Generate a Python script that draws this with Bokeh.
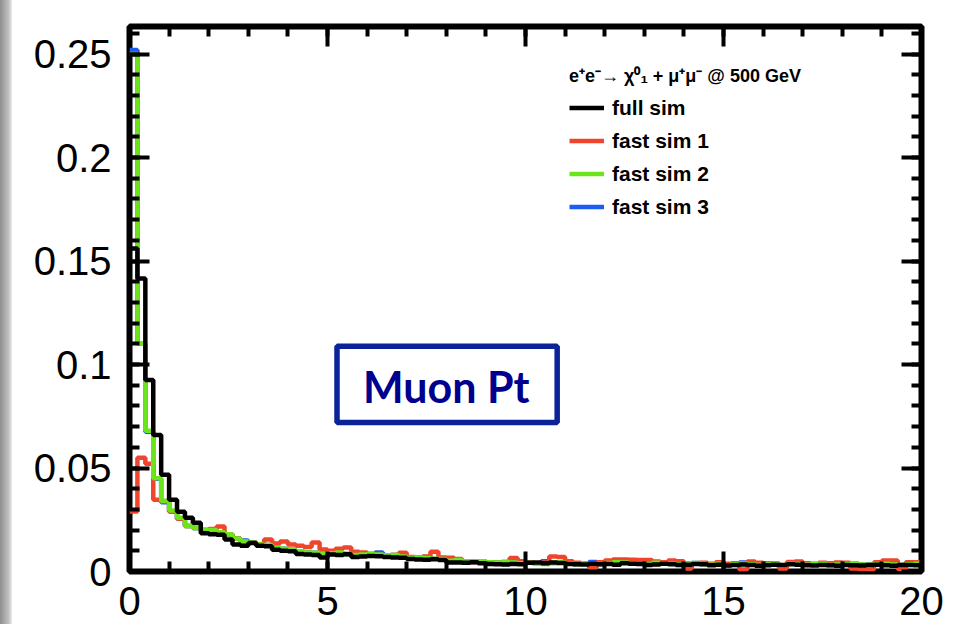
from bokeh.plotting import figure
from bokeh.models import (LinearAxis, Range1d, FixedTicker, BoxAnnotation, Label,
                          Legend, LegendItem, Div, CustomJSTickFormatter,
                          CustomLabelingPolicy)
from bokeh.layouts import row
from bokeh.embed import file_html
from bokeh.resources import INLINE
import numpy as np

# Muon transverse momentum, 100 bins of 0.2 from 0 to 20
bin_edges = np.linspace(0.0, 20.0, 101)

full_sim = [
    0.156, 0.1416, 0.0925, 0.066, 0.0467, 0.0347, 0.0289, 0.026, 0.0236, 0.0185,
    0.018, 0.0178, 0.0154, 0.013, 0.0125, 0.0138, 0.0125, 0.0122, 0.0105, 0.0100,
    0.0098, 0.0085, 0.0082, 0.0080, 0.0068, 0.0082, 0.0080, 0.0083, 0.0070, 0.0072,
    0.0075, 0.0074, 0.0070, 0.0068, 0.0066, 0.0060, 0.0058, 0.0057, 0.0059, 0.0055,
    0.0044, 0.0043, 0.0042, 0.0045, 0.0040, 0.0036, 0.0035, 0.0034, 0.0036, 0.0035,
    0.0042, 0.0044, 0.0040, 0.0043, 0.0041, 0.0036, 0.0035, 0.0034, 0.0037, 0.0035,
    0.0036, 0.0033, 0.0040, 0.0038, 0.0036, 0.0032, 0.0034, 0.0038, 0.0035, 0.0031,
    0.0033, 0.0036, 0.0035, 0.0030, 0.0033, 0.0029, 0.0031, 0.0034, 0.0032, 0.0028,
    0.0030, 0.0033, 0.0031, 0.0035, 0.0033, 0.0030, 0.0029, 0.0031, 0.0030, 0.0028,
    0.0032, 0.0030, 0.0029, 0.0031, 0.0033, 0.0030, 0.0028, 0.0031, 0.0032, 0.0030]

fast_sim_1 = [
    0.029, 0.055, 0.052, 0.0347, 0.034, 0.029, 0.0255, 0.022, 0.021, 0.020,
    0.0205, 0.0217, 0.018, 0.016, 0.0145, 0.0140, 0.0132, 0.0154, 0.0135, 0.0145,
    0.0130, 0.0125, 0.0118, 0.0140, 0.0106, 0.0100, 0.0110, 0.0116, 0.0096, 0.0092,
    0.0085, 0.0080, 0.0075, 0.0080, 0.0090, 0.0070, 0.0068, 0.0072, 0.0096, 0.0068,
    0.0066, 0.0060, 0.0050, 0.0045, 0.0048, 0.0040, 0.0042, 0.0045, 0.0065, 0.0050,
    0.0045, 0.0040, 0.0044, 0.0072, 0.0070, 0.0050, 0.0042, 0.0038, 0.0020, 0.0045,
    0.0053, 0.0058, 0.0058, 0.0057, 0.0055, 0.0055, 0.0048, 0.0045, 0.0053, 0.0050,
    0.0015, 0.0040, 0.0042, 0.0038, 0.0045, 0.0038, 0.0040, 0.0010, 0.0048, 0.0042,
    0.0040, 0.0040, 0.0015, 0.0046, 0.0048, 0.0040, 0.0038, 0.0042, 0.0040, 0.0044,
    0.0042, 0.0015, 0.0012, 0.0010, 0.0045, 0.0053, 0.0053, 0.0012, 0.0045, 0.0045]

fast_sim_2 = [
    0.250, 0.110, 0.068, 0.045, 0.034, 0.0295, 0.026, 0.022, 0.021, 0.020,
    0.020, 0.019, 0.018, 0.016, 0.0145, 0.0140, 0.0130, 0.0128, 0.0115, 0.0110,
    0.0105, 0.0098, 0.0092, 0.0090, 0.0085, 0.0088, 0.0092, 0.0085, 0.0080, 0.0082,
    0.0085, 0.0082, 0.0078, 0.0080, 0.0072, 0.0066, 0.0068, 0.0065, 0.0062, 0.0060,
    0.0052, 0.0055, 0.0050, 0.0048, 0.0050, 0.0045, 0.0044, 0.0046, 0.0043, 0.0040,
    0.0042, 0.0038, 0.0036, 0.0041, 0.0045, 0.0040, 0.0035, 0.0037, 0.0039, 0.0036,
    0.0041, 0.0045, 0.0043, 0.0040, 0.0038, 0.0036, 0.0042, 0.0040, 0.0037, 0.0034,
    0.0039, 0.0041, 0.0036, 0.0033, 0.0038, 0.0030, 0.0036, 0.0039, 0.0035, 0.0032,
    0.0034, 0.0037, 0.0030, 0.0038, 0.0036, 0.0033, 0.0035, 0.0038, 0.0032, 0.0034,
    0.0036, 0.0040, 0.0034, 0.0033, 0.0036, 0.0038, 0.0034, 0.0032, 0.0035, 0.0037]

fast_sim_3 = [
    0.252, 0.110, 0.0675, 0.0448, 0.0335, 0.0290, 0.0255, 0.022, 0.021, 0.020,
    0.020, 0.019, 0.018, 0.016, 0.0150, 0.0140, 0.0130, 0.0128, 0.0115, 0.0110,
    0.0105, 0.0098, 0.0092, 0.0090, 0.0085, 0.0088, 0.0092, 0.0085, 0.0080, 0.0082,
    0.0085, 0.0092, 0.0078, 0.0080, 0.0072, 0.0066, 0.0068, 0.0070, 0.0062, 0.0060,
    0.0052, 0.0055, 0.0050, 0.0048, 0.0050, 0.0045, 0.0044, 0.0046, 0.0043, 0.0040,
    0.0042, 0.0038, 0.0050, 0.0041, 0.0045, 0.0040, 0.0035, 0.0037, 0.0046, 0.0036,
    0.0041, 0.0045, 0.0043, 0.0040, 0.0038, 0.0036, 0.0042, 0.0040, 0.0037, 0.0034,
    0.0039, 0.0041, 0.0036, 0.0033, 0.0038, 0.0030, 0.0036, 0.0044, 0.0035, 0.0032,
    0.0034, 0.0037, 0.0030, 0.0038, 0.0036, 0.0033, 0.0035, 0.0038, 0.0032, 0.0034,
    0.0036, 0.0040, 0.0034, 0.0033, 0.0036, 0.0038, 0.0034, 0.0032, 0.0035, 0.0037]

series_names = ["full sim", "fast sim 1", "fast sim 2", "fast sim 3"]
series_colors = ["#000000", "#f0442c", "#6ce41a", "#1e5bf5"]

x_major = [0, 5, 10, 15, 20]
x_minor = list(range(0, 21))
y_major = [0, 0.05, 0.1, 0.15, 0.2, 0.25]
y_minor = [round(0.01 * k, 2) for k in range(0, 27)]

legend_title = "e\u207ae\u207b\u2192 \u03c7\u2070\u2081 + \u03bc\u207a\u03bc\u207b @ 500 GeV"
box_text = "Muon Pt"

TICK_FONT = "Liberation Sans"

p = figure(width=945, height=624, output_backend="svg", toolbar_location=None,
           x_range=Range1d(0, 20), y_range=Range1d(0, 0.2633),
           min_border_left=117, min_border_right=36, min_border_top=26,
           min_border_bottom=53)
p.background_fill_color = "white"
p.border_fill_color = "white"
p.grid.visible = False
p.outline_line_color = "black"
p.outline_line_width = 6

# tick-only axes on the top and right edges of the frame
p.add_layout(LinearAxis(), "above")
p.add_layout(LinearAxis(), "right")

fmt = CustomJSTickFormatter(code="""
    return tick.toFixed(2).replace(/0+$/, '').replace(/\\.$/, '');
""")

for ax in p.xaxis:
    ax.ticker = FixedTicker(ticks=x_major, minor_ticks=x_minor)
for ax in p.yaxis:
    ax.ticker = FixedTicker(ticks=y_major, minor_ticks=y_minor)
    ax.formatter = fmt

for ax in p.axis:
    ax.axis_line_color = None
    ax.major_tick_in = 20
    ax.major_tick_out = 0
    ax.minor_tick_in = 10
    ax.minor_tick_out = 0
    ax.major_tick_line_width = 4
    ax.minor_tick_line_width = 4
    ax.major_tick_line_color = "black"
    ax.minor_tick_line_color = "black"
    ax.major_label_text_font = TICK_FONT
    ax.major_label_text_font_size = "40px"
    ax.major_label_text_color = "black"

for ax in (p.above[0], p.right[0]):
    ax.major_label_standoff = 0
    ax.major_label_text_font_size = "0px"
    ax.major_label_policy = CustomLabelingPolicy(code="return [];")

p.below[0].major_label_standoff = 15
p.left[0].major_label_standoff = 18

series = [fast_sim_3, fast_sim_1, fast_sim_2, full_sim]
order = [3, 1, 2, 0]
renderers = {}
for vals, idx in zip(series, order):
    yv = list(vals) + [vals[-1]]
    r = p.step(x=bin_edges, y=yv, mode="after", line_width=4.5,
               line_color=series_colors[idx])
    renderers[idx] = r

legend = Legend(
    items=[LegendItem(label=series_names[i], renderers=[renderers[i]]) for i in range(4)],
    location=(440, 348),
    title=legend_title,
    title_text_font=TICK_FONT, title_text_font_style="bold", title_text_font_size="18px",
    title_text_color="black", title_standoff=4,
    label_text_font=TICK_FONT, label_text_font_style="bold", label_text_font_size="21px",
    label_text_color="black",
    label_standoff=8, glyph_width=35, glyph_height=33, label_height=33,
    spacing=0, padding=0, margin=0,
    border_line_color=None, background_fill_alpha=0,
)
p.add_layout(legend)

box = BoxAnnotation(left=5.24, right=10.80, bottom=0.0720, top=0.1088,
                    fill_color="white", fill_alpha=1.0,
                    line_color="#0b2399", line_alpha=1.0, line_width=5.5)
p.add_layout(box)
p.add_layout(Label(x=8.0, y=0.0895, text=box_text, text_align="center",
                   text_baseline="middle", text_font="Lato",
                   text_font_style="bold", text_font_size="43px",
                   text_color="#00008f"))

edge = Div(text="", width=12, height=624, margin=0,
           styles={"background": "linear-gradient(to right, #8e8e8e, #c4c4c4 75%, #ededed)"})

layout = row(edge, p, spacing=0)
open("out.html", "w").write(file_html(layout, INLINE))
